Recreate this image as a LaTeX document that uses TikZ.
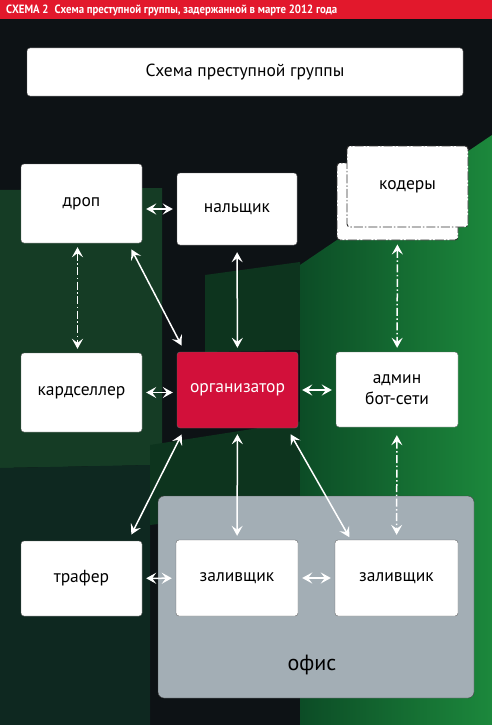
\documentclass[tikz,border=0pt]{standalone}
\usepackage{fontspec}
\setmainfont{PT Sans}
\newfontfamily\headfont[FakeStretch=0.9, BoldFont={PT Sans Bold}, BoldFeatures={FakeStretch=0.9}]{PT Sans}
\usepackage{tikz}
\usetikzlibrary{arrows.meta}

\definecolor{bgdark}{RGB}{13,18,21}
\definecolor{leftgreen}{RGB}{21,60,37}
\definecolor{lowgreen}{RGB}{14,40,32}
\definecolor{midgreen}{RGB}{13,52,30}
\definecolor{rgreenA}{RGB}{12,76,38}
\definecolor{rgreenB}{RGB}{28,136,60}
\definecolor{headred}{RGB}{226,24,44}
\definecolor{orgred}{RGB}{210,16,58}
\definecolor{office}{RGB}{163,174,181}

\begin{document}
\begin{tikzpicture}[x=1pt, y=-1pt,
    main/.style={rectangle, rounded corners=3pt, draw=black!60, fill=white, inner sep=0pt,
      align=center, minimum width=121pt, font=\fontsize{17.5}{21}\selectfont},
    coder/.style={main, draw=black!80, line width=0.9pt, dash pattern=on 9pt off 2pt on 1.5pt off 2pt},
    link/.style={draw=white, line width=1.5pt,
      {Stealth[length=10pt,width=11pt,inset=4pt]}-{Stealth[length=10pt,width=11pt,inset=4pt]},
      shorten <=4pt, shorten >=4pt},
    dd/.style={link, dash pattern=on 8pt off 2.5pt on 1.5pt off 2.5pt}]
    \useasboundingbox (0,0) rectangle (492,725);
    % background
    \fill[bgdark] (0,0) rectangle (492,725);
    \fill[leftgreen] (0,190) -- (162,188) -- (162,465) -- (0,468) -- cycle;
    \fill[lowgreen] (0,468) -- (150,465) -- (150,725) -- (0,725) -- cycle;
    \fill[midgreen] (150,445) -- (310,420) -- (310,505) -- (150,525) -- cycle;
    \fill[midgreen] (205,275) -- (300,262) -- (300,350) -- (205,352) -- cycle;
    \shade[left color=rgreenA, right color=rgreenB] (300,265) -- (492,135) -- (492,725) -- (300,725) -- cycle;
    % header
    \fill[headred] (0,0) rectangle (492,19);
    \node[anchor=west, text=white, inner sep=0pt, font=\headfont\bfseries\fontsize{12}{14}\selectfont]
      (head) at (6,10) {СХЕМА 2\enspace Схема преступной группы, задержанной в марте 2012 года};
    \node[main, minimum width=436pt, minimum height=48pt] (title) at (245,72) {Схема преступной группы};
    % office
    \node[rectangle, rounded corners=6pt, draw=black!75, fill=office, minimum width=316pt,
      minimum height=202pt] (ofc) at (316,597) {};
    \node[font=\fontsize{22}{26}\selectfont, text=black] (ofclbl) at (312,665) {офис};
    % boxes
    \node[main, minimum height=79pt] (drop) at (81.5,203.5) {дроп};
    \node[main, minimum width=120pt, minimum height=72pt] (nal) at (237,209) {нальщик};
    \node[coder, minimum height=77pt] (coder2) at (397.5,201.5) {};
    \node[coder, minimum height=81pt] (coder1) at (407.5,186.5) {кодеры};
    \node[main, minimum height=79pt] (kard) at (81.5,392.5) {кардселлер};
    \node[main, fill=orgred, text=white, minimum height=76pt] (org) at (237.5,390) {организатор};
    \node[main, minimum width=122pt, minimum height=75pt] (adm) at (397,389.5) {админ\\бот-сети};
    \node[main, minimum height=75pt] (traf) at (81.5,578.5) {трафер};
    \node[main, minimum width=122pt, minimum height=76pt] (zal1) at (237,578) {заливщик};
    \node[main, minimum width=123pt, minimum height=76pt] (zal2) at (396.5,578) {заливщик};
    % links
    \draw[link] (drop.east |- nal) -- (nal);
    \draw[dd] ([xshift=-4pt]drop.south) -- ([xshift=-4pt]kard.north);
    \draw[link, shorten <=7pt, shorten >=7pt] ([xshift=-14pt]drop.south east) -- ([xshift=8pt]org.north west);
    \draw[link, shorten <=7pt] (nal) -- (org);
    \draw[dd] (coder2) -- (adm);
    \draw[link] (kard) -- (org.west |- kard);
    \draw[link] (org) -- (adm.west |- org);
    \draw[link, shorten <=7pt, shorten >=7pt] ([xshift=8pt]org.south west) -- ([xshift=-14pt]traf.north east);
    \draw[link, shorten <=6pt] (org) -- (zal1);
    \draw[link, shorten <=7pt, shorten >=3pt] ([xshift=-11pt]org.south east) -- ([xshift=16pt]zal2.north west);
    \draw[dd, shorten <=8pt, shorten >=5pt] (adm) -- (zal2);
    \draw[link] (traf) -- (zal1);
    \draw[link] (zal1) -- (zal2);
\end{tikzpicture}
\end{document}
